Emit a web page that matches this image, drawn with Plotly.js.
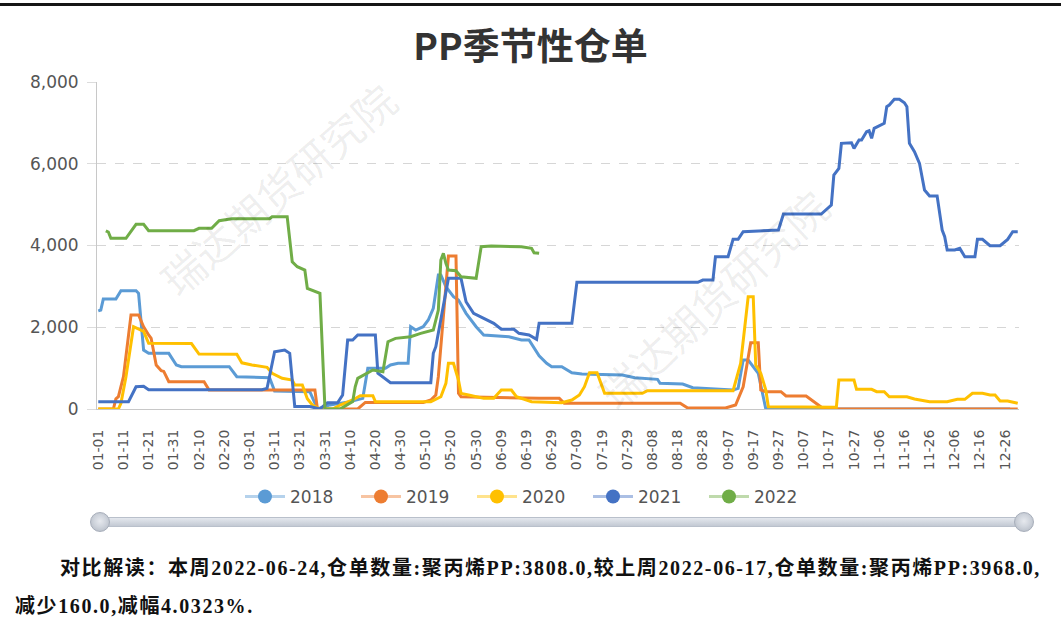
<!DOCTYPE html>
<html><head><meta charset="utf-8">
<script src="https://cdn.plot.ly/plotly-3.0.1.min.js"></script>
<style>
body{margin:0;background:#fff;width:1061px;height:638px;overflow:hidden;position:relative}
#chart{position:absolute;left:0;top:0;width:1061px;height:638px}
#topline{position:absolute;left:0;top:3px;width:1061px;height:3px;background:#151515}
#bar{position:absolute;left:100px;top:517px;width:924px;height:10px;border-radius:5px;background:linear-gradient(#e4e8ee,#c3c9d3);border:1px solid #b9c0cb;box-sizing:border-box}
.handle{position:absolute;top:512px;width:20px;height:20px;border-radius:50%;background:radial-gradient(circle at 50% 45%,#e6e9ee 0,#cfd4dc 45%,#aeb5c0 100%);border:1px solid #a7aeba;box-sizing:border-box}
#note{position:absolute;left:15px;top:549px;width:1046px;font-family:"Liberation Serif","Noto Sans CJK SC",serif;font-weight:bold;font-size:20px;letter-spacing:1.6px;line-height:38px;color:#111;white-space:nowrap}
</style></head><body>
<div id="chart"></div>
<div id="topline"></div>
<div id="bar"></div>
<div class="handle" style="left:90px"></div>
<div class="handle" style="left:1014px"></div>
<div id="note"><span style="padding-left:45px"></span>对比解读：本周2022-06-24,仓单数量:聚丙烯PP:3808.0,较上周2022-06-17,仓单数量:聚丙烯PP:3968.0,<br>减少160.0,减幅4.0323%.</div>
<script>
// axis categories: every day of a (leap) year as MM-DD
const monthDays = [31,29,31,30,31,30,31,31,30,31,30,31];
const categories = [];
monthDays.forEach((n, m) => { for (let d = 1; d <= n; d++) categories.push(String(m+1).padStart(2,'0') + '-' + String(d).padStart(2,'0')); });
const tickLabels = categories.filter((c, i) => i % 10 === 0);

const years = ["2018","2019","2020","2021","2022"];
const colors = ["#5B9BD5","#ED7D31","#FFC000","#4472C4","#70AD47"];
const legendLineColors = ["rgba(91,155,213,0.45)","rgba(237,125,49,0.45)","rgba(255,192,0,0.45)","rgba(68,114,196,0.45)","rgba(112,173,71,0.45)"];

const pts2018 = [["01-01",2400],["01-02",2420],["01-03",2690],["01-08",2690],["01-10",2894],["01-16",2894],["01-17",2830],["01-19",1443],["01-21",1362],["01-29",1362],["02-01",1076],["02-03",1035],["02-22",1035],["02-25",790],["03-09",765],["03-11",440],["03-25",424],["03-28",0],["04-02",100],["04-10",180],["04-15",260],["04-17",995],["04-24",995],["04-26",1076],["04-29",1117],["05-03",1117],["05-04",2013],["05-06",1932],["05-09",2013],["05-11",2177],["05-13",2463],["05-15",3278],["05-16",3278],["05-18",2992],["05-21",2747],["05-23",2666],["05-26",2341],["05-30",2013],["06-02",1810],["06-12",1769],["06-17",1688],["06-20",1688],["06-24",1300],["06-27",1117],["06-29",1035],["07-03",1035],["07-07",888],["07-11",856],["07-27",832],["08-01",767],["08-10",726],["08-11",628],["08-20",611],["08-24",522],["09-09",465],["09-11",506],["09-13",1198],["09-15",1198],["09-19",873],["09-22",0],["12-28",0]];

const pts2019 = [["01-01",0],["01-07",0],["01-08",250],["01-09",300],["01-11",790],["01-14",2300],["01-17",2300],["01-19",2013],["01-21",1810],["01-22",1729],["01-24",1076],["01-26",937],["01-27",920],["01-29",669],["02-12",669],["02-14",465],["03-27",465],["03-28",0],["04-13",0],["04-16",160],["05-09",160],["05-12",220],["05-14",342],["05-15",790],["05-19",3742],["05-22",3742],["05-23",383],["05-24",300],["06-24",260],["07-02",260],["07-04",139],["08-19",139],["08-22",24],["09-06",24],["09-10",98],["09-13",545],["09-16",1622],["09-19",1622],["09-20",465],["09-22",424],["09-28",424],["09-30",318],["10-08",318],["10-11",180],["10-14",41],["10-15",0],["12-31",0]];

const pts2020 = [["01-01",0],["01-09",0],["01-10",139],["01-12",790],["01-15",2013],["01-18",1932],["01-19",1900],["01-21",1607],["02-07",1600],["02-10",1345],["02-25",1340],["02-27",1130],["03-02",1076],["03-08",1020],["03-10",873],["03-14",750],["03-18",709],["03-19",587],["03-22",587],["03-24",250],["03-26",98],["03-29",0],["04-03",0],["04-06",98],["04-11",220],["04-14",325],["04-19",325],["04-20",180],["05-12",180],["05-16",300],["05-18",628],["05-19",1117],["05-21",1117],["05-23",709],["05-24",383],["05-27",342],["06-02",260],["06-06",260],["06-09",465],["06-13",465],["06-15",300],["06-21",180],["07-03",155],["07-07",220],["07-10",342],["07-12",545],["07-14",888],["07-17",888],["07-20",383],["08-04",383],["08-06",448],["09-09",448],["09-12",1117],["09-15",2747],["09-17",2747],["09-18",1076],["09-20",873],["09-22",465],["09-23",57],["10-20",41],["10-21",709],["10-27",709],["10-28",481],["11-03",481],["11-05",424],["11-08",424],["11-10",300],["11-17",300],["11-20",245],["11-26",180],["12-03",180],["12-07",237],["12-10",237],["12-13",383],["12-17",383],["12-20",342],["12-22",342],["12-24",196],["12-27",196],["12-31",139]];

const pts2021 = [["01-01",180],["01-13",180],["01-16",545],["01-19",555],["01-21",470],["03-06",470],["03-08",506],["03-11",1402],["03-15",1443],["03-17",1362],["03-19",60],["03-25",60],["03-29",0],["04-01",150],["04-05",150],["04-07",342],["04-09",1688],["04-11",1688],["04-13",1810],["04-20",1810],["04-21",873],["04-23",790],["04-26",644],["05-12",644],["05-13",1362],["05-14",1524],["05-19",3196],["05-24",3196],["05-26",2624],["05-29",2341],["06-02",2218],["06-06",2096],["06-09",1950],["06-14",1950],["06-16",1852],["06-20",1810],["06-23",1705],["06-24",2096],["07-07",2096],["07-09",3099],["08-26",3099],["08-28",3155],["09-01",3155],["09-02",3725],["09-07",3725],["09-09",4150],["09-11",4150],["09-13",4337],["09-27",4378],["09-29",4770],["10-14",4770],["10-18",4990],["10-19",5724],["10-21",5887],["10-22",6499],["10-26",6514],["10-27",6376],["10-29",6580],["10-30",6580],["11-01",6783],["11-02",6808],["11-03",6621],["11-04",6866],["11-08",6988],["11-09",7395],["11-10",7436],["11-12",7575],["11-14",7575],["11-16",7493],["11-17",7395],["11-18",6499],["11-20",6294],["11-22",6010],["11-24",5357],["11-26",5210],["11-29",5210],["12-01",4378],["12-02",4215],["12-03",3889],["12-06",3889],["12-08",3930],["12-10",3725],["12-14",3725],["12-15",4150],["12-17",4150],["12-20",3995],["12-24",3995],["12-27",4150],["12-29",4337],["12-31",4337]];

const pts2022 = [["01-04",4360],["01-05",4330],["01-06",4175],["01-12",4175],["01-16",4517],["01-19",4517],["01-21",4362],["02-08",4362],["02-10",4420],["02-15",4420],["02-18",4607],["02-23",4655],["03-09",4655],["03-10",4703],["03-16",4703],["03-18",3603],["03-20",3481],["03-23",3400],["03-24",2952],["03-29",2830],["03-31",0],["04-06",0],["04-11",180],["04-12",545],["04-13",750],["04-19",955],["04-23",913],["04-25",1647],["04-28",1728],["05-04",1769],["05-08",1850],["05-13",1932],["05-15",2421],["05-16",3645],["05-17",3808],["05-18",3563],["05-19",3400],["05-22",3383],["05-24",3236],["05-30",3196],["06-01",3970],["06-05",3987],["06-17",3968],["06-21",3930],["06-22",3823],["06-24",3808]];

const series = [pts2018, pts2019, pts2020, pts2021, pts2022];
const yTicks = [0, 2000, 4000, 6000, 8000];
const minorTickPos = [];
for (let i = 5; i < 366; i += 10) minorTickPos.push(i);
minorTickPos.push(365.5);

const traces = series.map((pts, i) => ({
  type: 'scatter', mode: 'lines', name: years[i],
  x: pts.map(p => p[0]), y: pts.map(p => p[1]),
  line: {color: colors[i], width: 3}, showlegend: false, hoverinfo: 'x+y'
}));
const legendTraces = years.map((yr, i) => ({
  type: 'scatter', mode: 'lines+markers', name: yr, x: [null], y: [null],
  line: {color: legendLineColors[i], width: 3}, marker: {color: colors[i], size: 14}, showlegend: true
}));

const wmFont = {family: 'Noto Sans CJK SC', size: 42, color: 'rgba(0,0,0,0.075)'};
const layout = {
  width: 1061, height: 638,
  margin: {l: 97, r: 42, t: 82, b: 229},
  paper_bgcolor: '#fff', plot_bgcolor: '#fff',
  title: {text: '<b>PP季节性仓单</b>', font: {family: 'Noto Sans CJK SC', size: 37, color: '#333'}, x: 0.5, xref: 'container', y: 1 - 47/638, yref: 'container', yanchor: 'middle'},
  xaxis: {type: 'category', categoryorder: 'array', categoryarray: categories, range: [-0.5, 365.5],
    tickmode: 'array', tickvals: tickLabels, ticktext: tickLabels, tickangle: -90, ticks: '',
    tickfont: {family: 'DejaVu Sans', size: 14, color: '#555'}, ticklabelstandoff: 14,
    showline: true, linecolor: '#c8c8c8', linewidth: 1, showgrid: false, zeroline: false, fixedrange: true},
  xaxis2: {overlaying: 'x', anchor: 'y', side: 'bottom', type: 'linear', range: [-0.5, 365.5],
    tickmode: 'array', tickvals: minorTickPos, ticks: 'outside', ticklen: 5, tickcolor: '#c8c8c8',
    showticklabels: false, showgrid: false, zeroline: false, showline: false},
  yaxis: {range: [0, 8000], tickmode: 'array', tickvals: yTicks, tickformat: ',',
    ticks: 'outside', ticklen: 9, tickcolor: '#dcdcdc', ticklabelstandoff: 5,
    tickfont: {family: 'DejaVu Sans', size: 17, color: '#555'},
    showgrid: true, gridcolor: '#d6d6d6', griddash: 'dash', gridwidth: 1,
    showline: true, linecolor: '#c8c8c8', zeroline: false, fixedrange: true},
  legend: {orientation: 'h', x: (240-97)/922, xanchor: 'left', y: (409-497)/327, yanchor: 'middle',
    font: {family: 'DejaVu Sans', size: 17, color: '#555'}, entrywidth: 61, itemwidth: 40, bgcolor: 'rgba(0,0,0,0)'},
  annotations: [
    {text: '瑞达期货研究院', xref: 'paper', yref: 'paper', x: (277-97)/922, y: (409-188)/327, xanchor: 'center', yanchor: 'middle', showarrow: false, textangle: -41, font: wmFont},
    {text: '瑞达期货研究院', xref: 'paper', yref: 'paper', x: (712-97)/922, y: (409-298)/327, xanchor: 'center', yanchor: 'middle', showarrow: false, textangle: -43, font: wmFont}
  ],
  showlegend: true
};
Plotly.newPlot('chart', traces.concat(legendTraces), layout, {displayModeBar: false, responsive: false});
</script>
</body></html>
